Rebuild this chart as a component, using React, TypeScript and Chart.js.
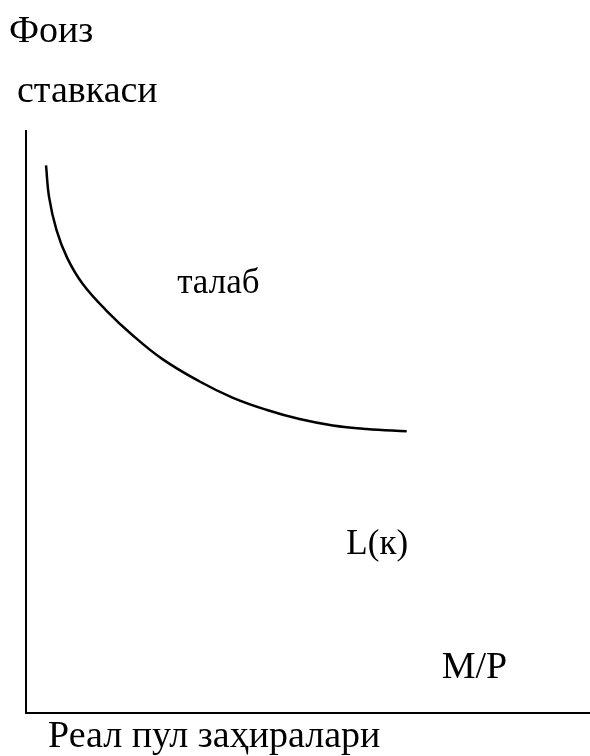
import React, { useEffect, useRef } from "react";
import { Chart, registerables } from "chart.js";

Chart.register(...registerables);

// Real money balances (x) and interest rate (y), arbitrary units
const moneyBalances = [3.55, 4.1, 5.4, 7.3, 10.0, 14.2, 18.8, 24.2, 30.7, 36.6, 42.6, 48.5, 54.4, 60.4, 67.5];
const interestRate = [94.1, 88.6, 83.0, 78.2, 73.8, 69.2, 65.0, 60.8, 57.0, 54.2, 52.1, 50.5, 49.4, 48.8, 48.4];

const yTitleLines = ["Фоиз", "ставкаси"];
const xTitle = "Реал пул заҳиралари";
const noteTexts = ["талаб", "L(к)", "M/P"];
const noteX = [26.8, 56.8, 73.7];
const noteY = [72.1, 27.4, 6.0];
const noteSizes = [35, 35, 38];

const FAMILY = "'Liberation Serif', 'Times New Roman', serif";

const textPlugin = {
  id: "texts",
  afterDraw(chart: any) {
    const { ctx, chartArea, scales } = chart;
    ctx.save();
    ctx.fillStyle = "#000";
    ctx.textAlign = "left";
    ctx.textBaseline = "alphabetic";
    ctx.font = `38px ${FAMILY}`;
    // y-axis title lines
    ctx.fillText(yTitleLines[0], chartArea.left - 17, chartArea.top - 89);
    ctx.fillText(yTitleLines[1], chartArea.left - 9, chartArea.top - 29);
    // x-axis title
    ctx.fillText(xTitle, chartArea.left + 22, chartArea.bottom + 34);
    // annotations
    noteTexts.forEach((t, i) => {
      ctx.font = `${noteSizes[i]}px ${FAMILY}`;
      ctx.fillText(t, scales.x.getPixelForValue(noteX[i]), scales.y.getPixelForValue(noteY[i]));
    });
    ctx.restore();
  },
};

export default function App() {
  const ref = useRef<HTMLCanvasElement>(null);
  useEffect(() => {
    if (!ref.current) return;
    const chart = new Chart(ref.current, {
      type: "line",
      data: {
        datasets: [
          {
            data: moneyBalances.map((x, i) => ({ x, y: interestRate[i] })),
            borderColor: "#000",
            borderWidth: 2.5,
            pointRadius: 0,
            fill: false,
            tension: 0.4,
          },
        ],
      },
      options: {
        animation: false,
        responsive: false,
        maintainAspectRatio: false,
        layout: { padding: { left: 26, top: 131, right: -2, bottom: 43 } },
        plugins: { legend: { display: false }, tooltip: { enabled: false } },
        scales: {
          x: {
            type: "linear",
            min: 0,
            max: 100,
            ticks: { display: false },
            grid: { display: false, drawTicks: false },
            border: { display: true, color: "#000", width: 2 },
          },
          y: {
            type: "linear",
            min: 0,
            max: 100,
            ticks: { display: false },
            grid: { display: false, drawTicks: false },
            border: { display: true, color: "#000", width: 2 },
          },
        },
      },
      plugins: [textPlugin],
    });
    return () => chart.destroy();
  }, []);
  return (
    <div style={{ position: "absolute", left: 0, top: 0, width: 590, height: 756, background: "#fff" }}>
      <canvas ref={ref} width={590} height={756} style={{ display: "block" }} />
    </div>
  );
}
